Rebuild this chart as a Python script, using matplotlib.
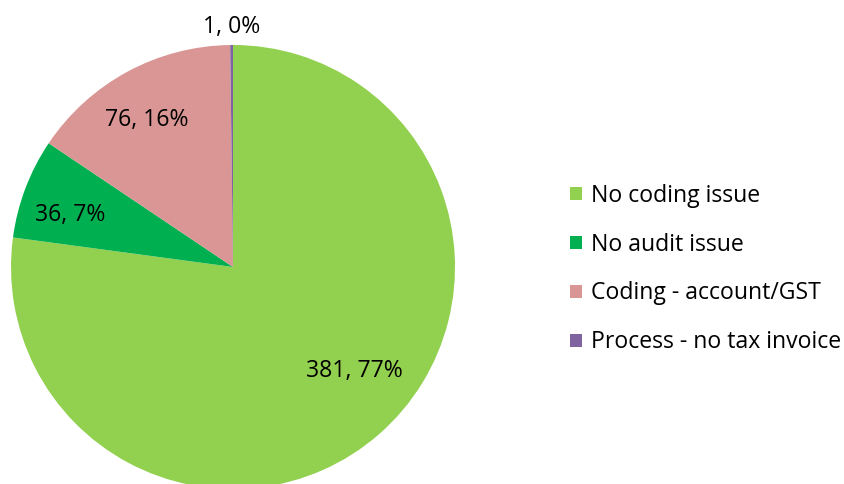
import numpy as np
import matplotlib
matplotlib.use("Agg")
import matplotlib.pyplot as plt

labels = ["No coding issue", "No audit issue", "Coding - account/GST", "Process - no tax invoice"]
counts = [381, 36, 76, 1]
pcts = [77, 7, 16, 0]
colors = ["#92D050", "#00B050", "#D99694", "#8064A2"]
label_dist = [0.72, 0.77, 0.77, 1.08]
label_turn = [8, 3, 2, 0]  # degrees, label nudge

plt.rcParams['font.family'] = ['Open Sans', 'DejaVu Sans']
fs = 16.6

fig = plt.figure(figsize=(8.45, 4.84), dpi=100)
ax = fig.add_axes([0, 0, 1, 1])

cx, cy, r = 233, 484 - 267, 222
wedges, _ = ax.pie(counts, colors=colors, startangle=90, counterclock=False,
                   center=(cx, cy), radius=r, frame=True,
                   wedgeprops=dict(linewidth=0))
ax.set_xlim(0, 845)
ax.set_ylim(0, 484)
ax.set_aspect('equal')
ax.axis('off')

for w, n, p, d, t in zip(wedges, counts, pcts, label_dist, label_turn):
    ang = np.deg2rad((w.theta1 + w.theta2) / 2 + t)
    x = cx + d * r * np.cos(ang)
    y = cy + d * r * np.sin(ang)
    ax.text(x, y, f"{n}, {p}%", ha='center', va='center',
            fontsize=fs, color='black')

fig.legend(wedges, labels, loc='center left', bbox_to_anchor=(570 / 845, 1 - 269 / 484),
           frameon=False, fontsize=fs, handlelength=0.5, handleheight=0.5,
           handletextpad=0.4, labelspacing=1.08, borderpad=0, borderaxespad=0)

fig.savefig("out.png", dpi=100)
